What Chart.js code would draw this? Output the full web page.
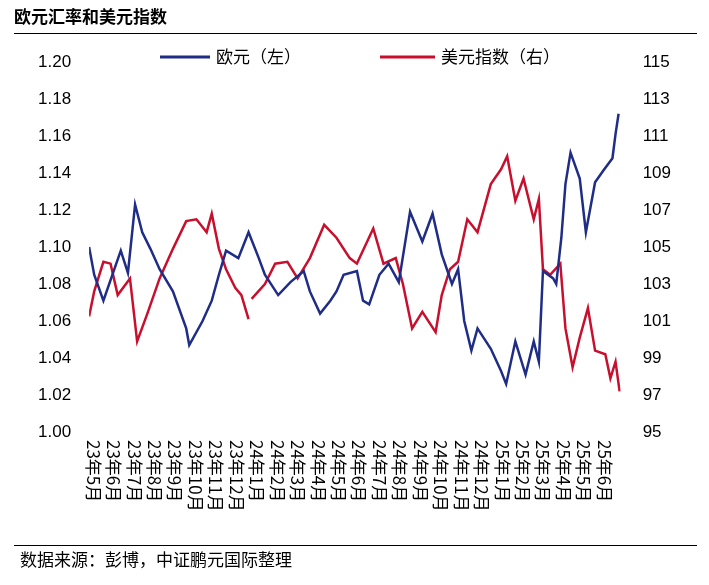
<!DOCTYPE html>
<html><head><meta charset="utf-8">
<script src="https://cdn.jsdelivr.net/npm/chart.js@4"></script>
<style>html,body{margin:0;padding:0;background:#fff}#w{position:absolute;left:0;top:0;width:709px;height:585px}</style>
</head><body><div id="w"><canvas id="c"></canvas></div>
<script>
const monthLabels=["23年5月","23年6月","23年7月","23年8月","23年9月","23年10月","23年11月","23年12月","24年1月","24年2月","24年3月","24年4月","24年5月","24年6月","24年7月","24年8月","24年9月","24年10月","24年11月","24年12月","25年1月","25年2月","25年3月","25年4月","25年5月","25年6月"];
const eurX=[-0.2,0.05,0.5,1.35,1.7,2.05,2.4,2.8,3.25,3.9,4.55,4.7,5.35,5.8,6.15,6.5,7.1,7.6,8.1,8.4,9.05,9.65,10.3,10.6,11.1,11.6,11.9,12.25,12.9,13.2,13.5,14.0,14.45,14.95,15.5,16.1,16.6,17.05,17.55,17.85,18.15,18.5,18.8,19.45,19.95,20.2,20.65,21.15,21.55,21.8,22.0,22.5,22.65,22.9,23.1,23.35,23.8,24.1,24.55,25.0,25.4,25.55,25.7];
const eurY=[1.100,1.085,1.071,1.098,1.086,1.123,1.108,1.099,1.088,1.076,1.056,1.047,1.060,1.071,1.085,1.098,1.094,1.108,1.094,1.085,1.074,1.081,1.087,1.076,1.064,1.071,1.076,1.085,1.087,1.071,1.069,1.085,1.091,1.081,1.119,1.103,1.118,1.096,1.080,1.088,1.060,1.044,1.056,1.045,1.033,1.026,1.049,1.031,1.049,1.038,1.087,1.083,1.080,1.105,1.134,1.151,1.137,1.108,1.135,1.142,1.148,1.161,1.172];
const dxyX=[-0.2,0.05,0.5,0.85,1.2,1.8,2.15,2.65,3.25,3.9,4.55,5.05,5.55,5.8,6.15,6.5,6.95,7.25,7.6,7.68,7.75,8.4,8.9,9.5,10.0,10.6,11.3,11.9,12.55,12.9,13.7,14.2,14.8,15.15,15.6,16.1,16.75,17.05,17.45,17.85,18.3,18.8,19.45,19.95,20.25,20.65,21.05,21.55,21.8,22.0,22.35,22.85,23.1,23.45,23.8,24.2,24.55,25.05,25.3,25.55,25.75];
const dxyY=[101.25,102.6,104.2,104.1,102.4,103.3,99.9,101.4,103.3,104.9,106.4,106.5,105.8,106.8,104.9,103.8,102.8,102.4,101.1,null,102.2,103.0,104.1,104.2,103.3,104.4,106.2,105.5,104.4,104.1,106.0,104.1,104.4,103.0,100.6,101.5,100.4,102.4,103.8,104.2,106.5,105.8,108.4,109.2,109.9,107.5,108.7,106.5,107.6,103.8,103.5,104.1,100.6,98.5,100.1,101.7,99.4,99.2,97.9,98.8,97.2];
const BLUE="#1f2d86",RED="#c8102e";
const deco={id:'deco',afterDraw(ch){
 const c=ch.ctx,xs=ch.scales.x;c.save();
 c.fillStyle="#000";c.font="bold 17px 'Noto Sans CJK SC'";c.textBaseline="middle";c.textAlign="left";
 c.fillText("欧元汇率和美元指数",14,17);
 c.fillRect(14,33,683,1);c.fillRect(14,545,683,1);
 c.font="17px 'Noto Sans CJK SC'";c.fillText("数据来源：彭博，中证鹏元国际整理",20,560);
 c.lineWidth=3;c.strokeStyle=BLUE;c.beginPath();c.moveTo(160,57);c.lineTo(210,57);c.stroke();
 c.fillText("欧元（左）",216,57);
 c.strokeStyle=RED;c.beginPath();c.moveTo(380,57);c.lineTo(435,57);c.stroke();
 c.fillText("美元指数（右）",441,57);
 c.font="17px 'Noto Sans CJK SC'";
 monthLabels.forEach((l,i)=>{const px=xs.getPixelForValue(i);c.save();c.translate(px,440);c.rotate(Math.PI/2);c.textAlign="left";c.textBaseline="middle";c.fillText(l,0,0);c.restore();});
 c.restore();}};
new Chart(document.getElementById('c'),{type:'line',
 data:{datasets:[
  {data:eurX.map((x,i)=>({x,y:eurY[i]})),borderColor:BLUE,borderWidth:2.5,pointRadius:0,yAxisID:'y',tension:0},
  {data:dxyX.map((x,i)=>({x,y:dxyY[i]})),borderColor:RED,borderWidth:2.5,pointRadius:0,yAxisID:'y1',tension:0,spanGaps:false}]},
 options:{responsive:true,maintainAspectRatio:false,animation:false,
  layout:{padding:{top:62,bottom:153,left:28,right:24}},
  plugins:{legend:{display:false},tooltip:{enabled:false}},
  scales:{
   x:{type:'linear',min:-0.2,max:25.8,display:false},
   y:{position:'left',min:1.0,max:1.2,grid:{display:false},border:{display:false},
      ticks:{stepSize:0.02,color:"#000",font:{family:"Liberation Sans",size:17},callback:v=>v.toFixed(2),padding:10}},
   y1:{position:'right',min:95,max:115,grid:{display:false},border:{display:false},
      ticks:{stepSize:2,color:"#000",font:{family:"Liberation Sans",size:17},padding:14}}}},
 plugins:[deco]});
</script></body></html>
